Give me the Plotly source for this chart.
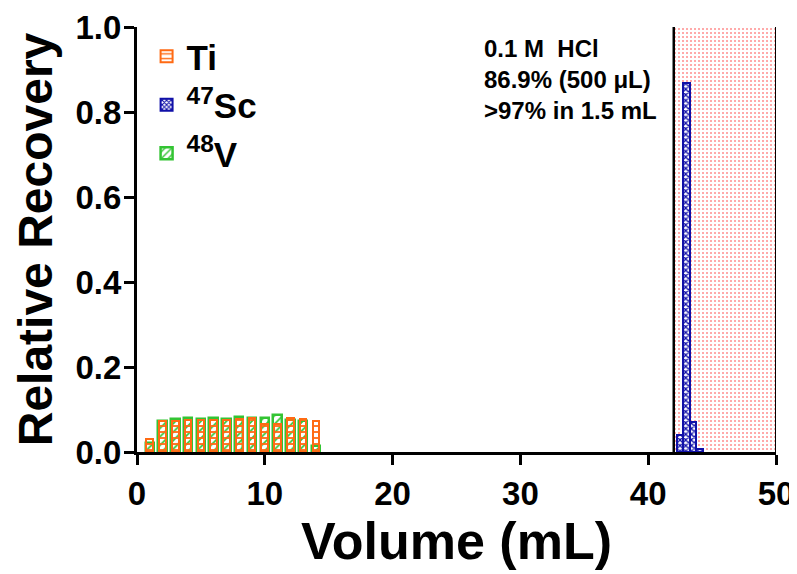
import plotly.graph_objects as go

# ---- data ----
volume = [1, 2, 3, 4, 5, 6, 7, 8, 9, 10, 11, 12, 13, 14]
ti_recovery = [0.031, 0.074, 0.074, 0.076, 0.076, 0.076, 0.076, 0.078, 0.079, 0.065, 0.066, 0.079, 0.078, 0.074]
v48_recovery = [0.021, 0.073, 0.078, 0.081, 0.078, 0.080, 0.078, 0.083, 0.080, 0.080, 0.086, 0.076, 0.074, 0.013]
sc_volume = [42.5, 43.0, 43.5, 44.0]
sc_recovery = [0.039, 0.869, 0.071, 0.008]
region_start, region_end = 42, 50
x_ticks = [0, 10, 20, 30, 40, 50]
y_ticks = [0.0, 0.2, 0.4, 0.6, 0.8, 1.0]
note_lines = ["0.1 M  HCl", "86.9% (500 μL)", ">97% in 1.5 mL"]

ORANGE = "#FF6A13"
BLUE = "#1010A8"
GREEN = "#33C433"
PINK = "#FF7070"
CLEAR = "rgba(0,0,0,0)"
FONT = "Liberation Sans, Arial, sans-serif"

fig = go.Figure()

# HCl elution region (dotted pink)
fig.add_trace(go.Bar(
    x=[(region_start + region_end) / 2], y=[y_ticks[-1]], width=[region_end - region_start],
    marker=dict(color="white", line=dict(width=0),
                pattern=dict(shape=".", size=4, solidity=0.2, fgcolor=PINK, bgcolor="white",
                             fgopacity=0.8, fillmode="replace")),
    showlegend=False, hoverinfo="skip",
))

fig.add_trace(go.Bar(
    x=volume, y=v48_recovery, width=0.66, name="<sup>48</sup>V",
    marker=dict(color=CLEAR, line=dict(color=GREEN, width=2.5),
                pattern=dict(shape="/", size=6, solidity=0.3, fgcolor=GREEN, bgcolor=CLEAR,
                             fgopacity=1, fillmode="replace")),
    legendrank=3,
))
fig.add_trace(go.Bar(
    x=volume, y=ti_recovery, width=0.52, name="Ti",
    marker=dict(color=CLEAR, line=dict(color=ORANGE, width=2),
                pattern=dict(shape="-", size=6, solidity=0.3, fgcolor=ORANGE, bgcolor=CLEAR,
                             fgopacity=1, fillmode="replace")),
    legendrank=1,
))
fig.add_trace(go.Bar(
    x=sc_volume, y=sc_recovery, width=0.5, name="<sup>47</sup>Sc",
    marker=dict(color="white", line=dict(color=BLUE, width=2),
                pattern=dict(shape="x", size=4, solidity=0.55, fgcolor=BLUE, bgcolor="white",
                             fgopacity=1, fillmode="replace")),
    legendrank=2,
))

fig.add_shape(type="line", xref="x", yref="y", x0=region_start, x1=region_start, y0=0, y1=y_ticks[-1],
              line=dict(color="black", width=2.5))
fig.add_shape(type="line", xref="x", yref="y", x0=region_end, x1=region_end, y0=0, y1=y_ticks[-1],
              line=dict(color="black", width=2))

fig.add_annotation(
    x=27.0, y=0.985, xref="x", yref="y", xanchor="left", yanchor="top",
    text="<br>".join(note_lines), showarrow=False, align="left",
    font=dict(family=FONT, size=24, color="black", weight="bold"),
)

# page body adds an 8px offset; the figure is sized so the plot area lands where the reference has it
fig.update_layout(
    width=789, height=566,
    margin=dict(l=129, r=21, t=19, b=122),
    paper_bgcolor="white", plot_bgcolor="white",
    barmode="overlay", bargap=0,
    font=dict(family=FONT, color="black"),
    legend=dict(x=0.015, y=1.0, xanchor="left", yanchor="top",
                font=dict(family=FONT, size=35, color="black", weight="bold"),
                bgcolor="rgba(0,0,0,0)", traceorder="normal", itemwidth=30),
    showlegend=True,
)
fig.update_xaxes(
    range=[x_ticks[0], x_ticks[-1]], tickvals=x_ticks, ticktext=[str(v) for v in x_ticks],
    showline=True, linecolor="black", linewidth=3, ticks="outside", ticklen=10, tickwidth=3,
    tickcolor="black", showgrid=False, zeroline=False, automargin=False,
    tickfont=dict(family=FONT, size=33, color="black", weight="bold"),
    title=dict(text="Volume (mL)", font=dict(family=FONT, size=52, color="black", weight="bold"), standoff=10),
)
fig.update_yaxes(
    range=[y_ticks[0], y_ticks[-1]], tickvals=y_ticks, ticktext=[f"{v:.1f}" for v in y_ticks],
    showline=True, linecolor="black", linewidth=3, ticks="outside", ticklen=10, tickwidth=3,
    tickcolor="black", showgrid=False, zeroline=False, automargin=False,
    ticklabelstandoff=-4,
    tickfont=dict(family=FONT, size=33, color="black", weight="bold"),
    title=dict(text="Relative Recovery", font=dict(family=FONT, size=48, color="black", weight="bold"), standoff=8),
)

fig.write_html("out.html")
